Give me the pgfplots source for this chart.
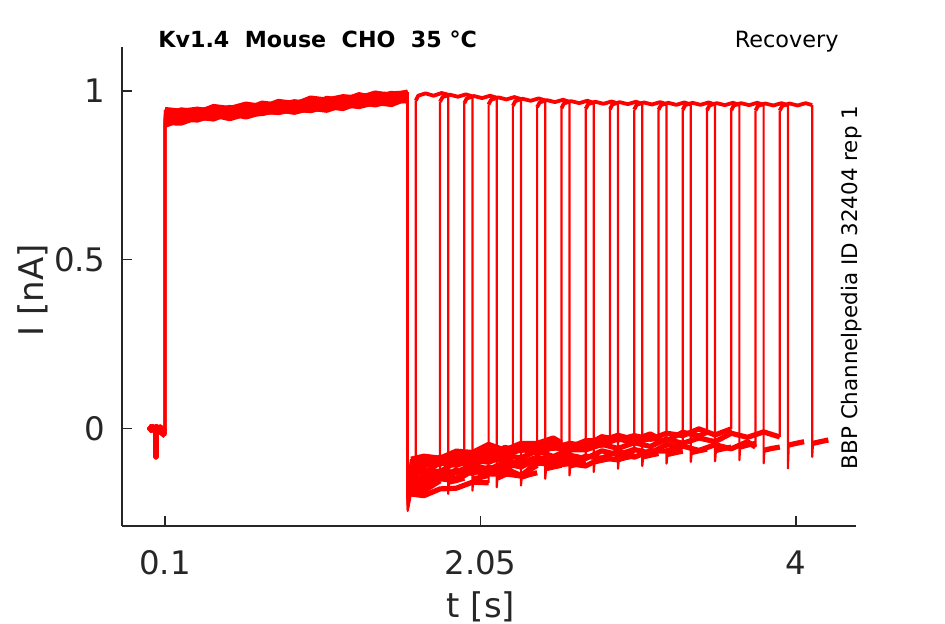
\documentclass[border=0pt]{standalone}
\usepackage{pgfplots}
\pgfplotsset{compat=1.18}
\usepackage{fontspec}
\setmainfont{DejaVu Sans}
\definecolor{axgray}{RGB}{38,38,38}
\pgfplotsset{
  band/.style={color=red,line width=2.6pt,line join=round,unbounded coords=jump},
  vert/.style={color=red,line width=1.1pt,line join=round,unbounded coords=jump},
  top/.style={color=red,line width=1.9pt,line join=round}}
\begin{document}
\begin{tikzpicture}
\path[use as bounding box] (-61pt,-49pt) rectangle (411.5pt,263pt);
\begin{axis}[
  at={(0,0)}, anchor=south west,
  scale only axis, width=367pt, height=239.5pt,
  xmin=-0.166, xmax=4.371, ymin=-0.290, ymax=1.1305,
  axis lines=left, axis line style={-, axgray, line width=0.6pt},
  tick align=inside, major tick length=5pt,
  tick style={axgray, line width=0.6pt},
  xtick={0.1,2.05,4}, xticklabels={0.1,2.05,4},
  ytick={0,0.5,1}, yticklabels={0,0.5,1},
  xticklabel style={font=\fontsize{16.2}{19}\selectfont, text=axgray, anchor=base, yshift=-24pt},
  yticklabel style={font=\fontsize{16.2}{19}\selectfont, text=axgray, anchor=east, inner sep=0pt, xshift=-8pt},
]
% ---------- sweep 1 ----------
\addplot[band] coordinates {(0,0.002)(0.025,-0.006)(0.042,0.000)(0.044,-0.085)(0.047,-0.004)(0.07,0.003)(0.1,-0.012) (nan,nan)
(0.1,0.924)(0.2,0.944)(0.3,0.938)(0.4,0.951)(0.5,0.944)(0.6,0.954)(0.7,0.950)(0.8,0.969)(0.9,0.963)(1.0,0.973)(1.1,0.967)(1.2,0.980)(1.3,0.979)(1.4,0.994)(1.5,0.983)(1.6,0.997) (nan,nan)
(1.62,-0.130)(1.65,-0.113) (nan,nan)
(1.855,-0.160)(1.9,-0.155)(1.95,-0.148)};
\addplot[vert] coordinates {(0.1,-0.012)(0.1,0.924) (nan,nan) (1.6,0.997)(1.6,-0.200)(1.62,-0.130) (nan,nan) (1.65,-0.113)(1.65,0.972) (nan,nan) (1.85,0.989)(1.85,-0.195)(1.855,-0.160)};
\addplot[top] coordinates {(1.65,0.972)(1.665,0.986)(1.71,0.993)(1.76,0.986)(1.81,0.994)(1.85,0.989)};
% ---------- sweep 2 ----------
\addplot[band] coordinates {(0,-0.005)(0.025,0.004)(0.042,-0.008)(0.044,-0.060)(0.047,0.001)(0.07,-0.007)(0.1,-0.018) (nan,nan)
(0.1,0.920)(0.2,0.914)(0.3,0.924)(0.4,0.920)(0.5,0.939)(0.6,0.933)(0.7,0.943)(0.8,0.937)(0.9,0.950)(1.0,0.947)(1.1,0.962)(1.2,0.951)(1.3,0.967)(1.4,0.968)(1.5,0.979)(1.6,0.972) (nan,nan)
(1.62,-0.182)(1.7,-0.186)(1.8,-0.156) (nan,nan)
(2.005,-0.150)(2.05,-0.146)(2.1,-0.140)};
\addplot[vert] coordinates {(0.1,-0.018)(0.1,0.920) (nan,nan) (1.6,0.972)(1.6,-0.240)(1.62,-0.182) (nan,nan) (1.8,-0.156)(1.8,0.968) (nan,nan) (2.0,0.984)(2.0,-0.185)(2.005,-0.150)};
\addplot[top] coordinates {(1.8,0.968)(1.815,0.982)(1.86,0.989)(1.91,0.983)(1.96,0.990)(2.0,0.984)};
% ---------- sweep 3 ----------
\addplot[band] coordinates {(0,0.006)(0.025,-0.002)(0.042,0.003)(0.044,-0.075)(0.047,-0.009)(0.07,0.000)(0.1,-0.008) (nan,nan)
(0.1,0.919)(0.2,0.939)(0.3,0.933)(0.4,0.943)(0.5,0.937)(0.6,0.950)(0.7,0.947)(0.8,0.962)(0.9,0.951)(1.0,0.965)(1.1,0.966)(1.2,0.977)(1.3,0.972)(1.4,0.984)(1.5,0.978)(1.6,0.994) (nan,nan)
(1.62,-0.100)(1.7,-0.086)(1.8,-0.099)(1.9,-0.077)(1.95,-0.078) (nan,nan)
(2.155,-0.148)(2.2,-0.138)(2.25,-0.130)};
\addplot[vert] coordinates {(0.1,-0.008)(0.1,0.919) (nan,nan) (1.6,0.994)(1.6,-0.185)(1.62,-0.100) (nan,nan) (1.95,-0.078)(1.95,0.964) (nan,nan) (2.15,0.980)(2.15,-0.175)(2.155,-0.148)};
\addplot[top] coordinates {(1.95,0.964)(1.965,0.978)(2.01,0.985)(2.06,0.979)(2.11,0.986)(2.15,0.980)};
% ---------- sweep 4 ----------
\addplot[band] coordinates {(0,-0.008)(0.025,0.001)(0.042,-0.004)(0.044,-0.040)(0.047,0.005)(0.07,-0.010)(0.1,-0.022) (nan,nan)
(0.1,0.906)(0.2,0.905)(0.3,0.922)(0.4,0.919)(0.5,0.934)(0.6,0.923)(0.7,0.937)(0.8,0.938)(0.9,0.949)(1.0,0.942)(1.1,0.954)(1.2,0.948)(1.3,0.966)(1.4,0.959)(1.5,0.971)(1.6,0.971) (nan,nan)
(1.62,-0.195)(1.7,-0.200)(1.8,-0.180)(1.9,-0.178)(2.0,-0.160)(2.1,-0.162) (nan,nan)
(2.305,-0.145)(2.35,-0.138)(2.4,-0.132)};
\addplot[vert] coordinates {(0.1,-0.022)(0.1,0.906) (nan,nan) (1.6,0.971)(1.6,-0.245)(1.62,-0.195) (nan,nan) (2.1,-0.162)(2.1,0.960) (nan,nan) (2.3,0.976)(2.3,-0.170)(2.305,-0.145)};
\addplot[top] coordinates {(2.1,0.960)(2.115,0.974)(2.16,0.981)(2.21,0.975)(2.26,0.982)(2.3,0.976)};
% ---------- sweep 5 ----------
\addplot[band] coordinates {(0,0.002)(0.025,-0.006)(0.042,0.000)(0.044,-0.085)(0.047,-0.004)(0.07,0.003)(0.1,-0.012) (nan,nan)
(0.1,0.919)(0.2,0.935)(0.3,0.924)(0.4,0.938)(0.5,0.939)(0.6,0.950)(0.7,0.943)(0.8,0.955)(0.9,0.949)(1.0,0.965)(1.1,0.958)(1.2,0.970)(1.3,0.966)(1.4,0.985)(1.5,0.979)(1.6,0.992) (nan,nan)
(1.62,-0.144)(1.7,-0.123)(1.8,-0.129)(1.9,-0.100)(2.0,-0.108)(2.1,-0.086)(2.2,-0.098)(2.25,-0.085) (nan,nan)
(2.455,-0.120)(2.5,-0.115)(2.55,-0.110)};
\addplot[vert] coordinates {(0.1,-0.012)(0.1,0.919) (nan,nan) (1.6,0.992)(1.6,-0.215)(1.62,-0.144) (nan,nan) (2.25,-0.085)(2.25,0.956) (nan,nan) (2.45,0.972)(2.45,-0.150)(2.455,-0.120)};
\addplot[top] coordinates {(2.25,0.956)(2.265,0.970)(2.31,0.977)(2.36,0.971)(2.41,0.978)(2.45,0.972)};
% ---------- sweep 6 ----------
\addplot[band] coordinates {(0,-0.005)(0.025,0.004)(0.042,-0.008)(0.044,-0.060)(0.047,0.001)(0.07,-0.007)(0.1,-0.018) (nan,nan)
(0.1,0.932)(0.2,0.934)(0.3,0.945)(0.4,0.938)(0.5,0.950)(0.6,0.944)(0.7,0.960)(0.8,0.953)(0.9,0.965)(1.0,0.959)(1.1,0.978)(1.2,0.972)(1.3,0.987)(1.4,0.980)(1.5,0.990)(1.6,0.986) (nan,nan)
(1.62,-0.161)(1.7,-0.169)(1.8,-0.150)(1.9,-0.155)(2.0,-0.126)(2.1,-0.133)(2.2,-0.119)(2.3,-0.140)(2.4,-0.110) (nan,nan)
(2.605,-0.112)(2.65,-0.106)(2.7,-0.100)};
\addplot[vert] coordinates {(0.1,-0.018)(0.1,0.932) (nan,nan) (1.6,0.986)(1.6,-0.230)(1.62,-0.161) (nan,nan) (2.4,-0.110)(2.4,0.952) (nan,nan) (2.6,0.968)(2.6,-0.140)(2.605,-0.112)};
\addplot[top] coordinates {(2.4,0.952)(2.415,0.966)(2.46,0.973)(2.51,0.967)(2.56,0.974)(2.6,0.968)};
% ---------- sweep 7 ----------
\addplot[band] coordinates {(0,0.006)(0.025,-0.002)(0.042,0.003)(0.044,-0.075)(0.047,-0.009)(0.07,0.000)(0.1,-0.008) (nan,nan)
(0.1,0.912)(0.2,0.925)(0.3,0.919)(0.4,0.935)(0.5,0.928)(0.6,0.940)(0.7,0.934)(0.8,0.953)(0.9,0.947)(1.0,0.960)(1.1,0.953)(1.2,0.963)(1.3,0.961)(1.4,0.980)(1.5,0.974)(1.6,0.984) (nan,nan)
(1.62,-0.092)(1.7,-0.083)(1.8,-0.089)(1.9,-0.068)(2.0,-0.072)(2.1,-0.048)(2.2,-0.065)(2.3,-0.045)(2.4,-0.045)(2.5,-0.029)(2.55,-0.043) (nan,nan)
(2.755,-0.100)(2.8,-0.095)(2.85,-0.090)};
\addplot[vert] coordinates {(0.1,-0.008)(0.1,0.912) (nan,nan) (1.6,0.984)(1.6,-0.180)(1.62,-0.092) (nan,nan) (2.55,-0.043)(2.55,0.949) (nan,nan) (2.75,0.965)(2.75,-0.130)(2.755,-0.100)};
\addplot[top] coordinates {(2.55,0.949)(2.565,0.963)(2.61,0.970)(2.66,0.964)(2.71,0.971)(2.75,0.965)};
% ---------- sweep 8 ----------
\addplot[band] coordinates {(0,-0.008)(0.025,0.001)(0.042,-0.004)(0.044,-0.040)(0.047,0.005)(0.07,-0.010)(0.1,-0.022) (nan,nan)
(0.1,0.917)(0.2,0.911)(0.3,0.923)(0.4,0.917)(0.5,0.936)(0.6,0.930)(0.7,0.943)(0.8,0.936)(0.9,0.946)(1.0,0.942)(1.1,0.961)(1.2,0.955)(1.3,0.967)(1.4,0.961)(1.5,0.974)(1.6,0.971) (nan,nan)
(1.62,-0.145)(1.7,-0.158)(1.8,-0.134)(1.9,-0.132)(2.0,-0.114)(2.1,-0.123)(2.2,-0.105)(2.3,-0.115)(2.4,-0.092)(2.5,-0.104)(2.6,-0.087)(2.7,-0.097) (nan,nan)
(2.905,-0.092)(2.95,-0.087)(3.0,-0.082)};
\addplot[vert] coordinates {(0.1,-0.022)(0.1,0.917) (nan,nan) (1.6,0.971)(1.6,-0.210)(1.62,-0.145) (nan,nan) (2.7,-0.097)(2.7,0.947) (nan,nan) (2.9,0.963)(2.9,-0.120)(2.905,-0.092)};
\addplot[top] coordinates {(2.7,0.947)(2.715,0.961)(2.76,0.968)(2.81,0.962)(2.86,0.969)(2.9,0.963)};
% ---------- sweep 9 ----------
\addplot[band] coordinates {(0,0.002)(0.025,-0.006)(0.042,0.000)(0.044,-0.085)(0.047,-0.004)(0.07,0.003)(0.1,-0.012) (nan,nan)
(0.1,0.945)(0.2,0.940)(0.3,0.946)(0.4,0.939)(0.5,0.949)(0.6,0.945)(0.7,0.964)(0.8,0.958)(0.9,0.968)(1.0,0.962)(1.1,0.975)(1.2,0.972)(1.3,0.989)(1.4,0.978)(1.5,0.992)(1.6,0.993) (nan,nan)
(1.62,-0.123)(1.7,-0.101)(1.8,-0.107)(1.9,-0.082)(2.0,-0.092)(2.1,-0.072)(2.2,-0.082)(2.3,-0.055)(2.4,-0.065)(2.5,-0.046)(2.6,-0.058)(2.7,-0.043)(2.8,-0.050)(2.85,-0.025) (nan,nan)
(3.055,-0.085)(3.1,-0.080)(3.15,-0.075)};
\addplot[vert] coordinates {(0.1,-0.012)(0.1,0.945) (nan,nan) (1.6,0.993)(1.6,-0.190)(1.62,-0.123) (nan,nan) (2.85,-0.025)(2.85,0.946) (nan,nan) (3.05,0.962)(3.05,-0.112)(3.055,-0.085)};
\addplot[top] coordinates {(2.85,0.946)(2.865,0.960)(2.91,0.967)(2.96,0.961)(3.01,0.968)(3.05,0.962)};
% ---------- sweep 10 ----------
\addplot[band] coordinates {(0,-0.005)(0.025,0.004)(0.042,-0.008)(0.044,-0.060)(0.047,0.001)(0.07,-0.007)(0.1,-0.018) (nan,nan)
(0.1,0.915)(0.2,0.926)(0.3,0.922)(0.4,0.941)(0.5,0.935)(0.6,0.945)(0.7,0.939)(0.8,0.952)(0.9,0.949)(1.0,0.964)(1.1,0.953)(1.2,0.967)(1.3,0.970)(1.4,0.981)(1.5,0.974)(1.6,0.986) (nan,nan)
(1.62,-0.165)(1.7,-0.180)(1.8,-0.140)(1.9,-0.148)(2.0,-0.127)(2.1,-0.136)(2.2,-0.135)(2.3,-0.142)(2.4,-0.101)(2.5,-0.111)(2.6,-0.105)(2.7,-0.112)(2.8,-0.088)(2.9,-0.094)(3.0,-0.074) (nan,nan)
(3.205,-0.078)(3.25,-0.073)(3.3,-0.068)};
\addplot[vert] coordinates {(0.1,-0.018)(0.1,0.915) (nan,nan) (1.6,0.986)(1.6,-0.225)(1.62,-0.165) (nan,nan) (3.0,-0.074)(3.0,0.945) (nan,nan) (3.2,0.961)(3.2,-0.105)(3.205,-0.078)};
\addplot[top] coordinates {(3.0,0.945)(3.015,0.959)(3.06,0.966)(3.11,0.960)(3.16,0.967)(3.2,0.961)};
% ---------- sweep 11 ----------
\addplot[band] coordinates {(0,0.006)(0.025,-0.002)(0.042,0.003)(0.044,-0.075)(0.047,-0.009)(0.07,0.000)(0.1,-0.008) (nan,nan)
(0.1,0.933)(0.2,0.928)(0.3,0.938)(0.4,0.932)(0.5,0.945)(0.6,0.942)(0.7,0.957)(0.8,0.946)(0.9,0.960)(1.0,0.961)(1.1,0.972)(1.2,0.965)(1.3,0.979)(1.4,0.973)(1.5,0.989)(1.6,0.982) (nan,nan)
(1.62,-0.118)(1.7,-0.099)(1.8,-0.102)(1.9,-0.073)(2.0,-0.081)(2.1,-0.064)(2.2,-0.074)(2.3,-0.055)(2.4,-0.061)(2.5,-0.040)(2.6,-0.057)(2.7,-0.037)(2.8,-0.037)(2.9,-0.021)(3.0,-0.034)(3.1,-0.017)(3.15,-0.030) (nan,nan)
(3.355,-0.072)(3.4,-0.067)(3.45,-0.062)};
\addplot[vert] coordinates {(0.1,-0.008)(0.1,0.933) (nan,nan) (1.6,0.982)(1.6,-0.190)(1.62,-0.118) (nan,nan) (3.15,-0.030)(3.15,0.944) (nan,nan) (3.35,0.960)(3.35,-0.100)(3.355,-0.072)};
\addplot[top] coordinates {(3.15,0.944)(3.165,0.958)(3.21,0.965)(3.26,0.959)(3.31,0.966)(3.35,0.960)};
% ---------- sweep 12 ----------
\addplot[band] coordinates {(0,-0.008)(0.025,0.001)(0.042,-0.004)(0.044,-0.040)(0.047,0.005)(0.07,-0.010)(0.1,-0.022) (nan,nan)
(0.1,0.898)(0.2,0.917)(0.3,0.914)(0.4,0.929)(0.5,0.918)(0.6,0.932)(0.7,0.933)(0.8,0.944)(0.9,0.937)(1.0,0.949)(1.1,0.943)(1.2,0.959)(1.3,0.954)(1.4,0.966)(1.5,0.960)(1.6,0.979) (nan,nan)
(1.62,-0.144)(1.7,-0.150)(1.8,-0.127)(1.9,-0.131)(2.0,-0.108)(2.1,-0.122)(2.2,-0.102)(2.3,-0.102)(2.4,-0.086)(2.5,-0.098)(2.6,-0.080)(2.7,-0.090)(2.8,-0.067)(2.9,-0.079)(3.0,-0.063)(3.1,-0.074)(3.2,-0.048)(3.3,-0.059) (nan,nan)
(3.505,-0.066)(3.55,-0.061)(3.6,-0.056)};
\addplot[vert] coordinates {(0.1,-0.022)(0.1,0.898) (nan,nan) (1.6,0.979)(1.6,-0.205)(1.62,-0.144) (nan,nan) (3.3,-0.059)(3.3,0.944) (nan,nan) (3.5,0.960)(3.5,-0.098)(3.505,-0.066)};
\addplot[top] coordinates {(3.3,0.944)(3.315,0.958)(3.36,0.965)(3.41,0.959)(3.46,0.966)(3.5,0.960)};
% ---------- sweep 13 ----------
\addplot[band] coordinates {(0,0.002)(0.025,-0.006)(0.042,0.000)(0.044,-0.085)(0.047,-0.004)(0.07,0.003)(0.1,-0.012) (nan,nan)
(0.1,0.942)(0.2,0.930)(0.3,0.939)(0.4,0.940)(0.5,0.951)(0.6,0.944)(0.7,0.956)(0.8,0.950)(0.9,0.966)(1.0,0.959)(1.1,0.971)(1.2,0.965)(1.3,0.986)(1.4,0.980)(1.5,0.993)(1.6,0.986) (nan,nan)
(1.62,-0.132)(1.7,-0.108)(1.8,-0.104)(1.9,-0.086)(2.0,-0.096)(2.1,-0.075)(2.2,-0.085)(2.3,-0.062)(2.4,-0.074)(2.5,-0.057)(2.6,-0.067)(2.7,-0.040)(2.8,-0.050)(2.9,-0.031)(3.0,-0.044)(3.1,-0.030)(3.2,-0.038)(3.3,-0.012)(3.4,-0.023)(3.45,-0.012) (nan,nan)
(3.655,-0.056)(3.7,-0.050)(3.75,-0.045)};
\addplot[vert] coordinates {(0.1,-0.012)(0.1,0.942) (nan,nan) (1.6,0.986)(1.6,-0.195)(1.62,-0.132) (nan,nan) (3.45,-0.012)(3.45,0.943) (nan,nan) (3.65,0.959)(3.65,-0.095)(3.655,-0.056)};
\addplot[top] coordinates {(3.45,0.943)(3.465,0.957)(3.51,0.964)(3.56,0.958)(3.61,0.965)(3.65,0.959)};
% ---------- sweep 14 ----------
\addplot[band] coordinates {(0,-0.005)(0.025,0.004)(0.042,-0.008)(0.044,-0.060)(0.047,0.001)(0.07,-0.007)(0.1,-0.018) (nan,nan)
(0.1,0.915)(0.2,0.927)(0.3,0.920)(0.4,0.932)(0.5,0.926)(0.6,0.942)(0.7,0.935)(0.8,0.947)(0.9,0.941)(1.0,0.960)(1.1,0.954)(1.2,0.967)(1.3,0.962)(1.4,0.972)(1.5,0.968)(1.6,0.987) (nan,nan)
(1.62,-0.107)(1.7,-0.113)(1.8,-0.086)(1.9,-0.096)(2.0,-0.077)(2.1,-0.084)(2.2,-0.057)(2.3,-0.067)(2.4,-0.048)(2.5,-0.060)(2.6,-0.045)(2.7,-0.052)(2.8,-0.025)(2.9,-0.035)(3.0,-0.022)(3.1,-0.033)(3.2,-0.015)(3.3,-0.022)(3.4,-0.002)(3.5,-0.020)(3.6,-0.002) (nan,nan)
(3.805,-0.065)(3.85,-0.060)(3.9,-0.056)};
\addplot[vert] coordinates {(0.1,-0.018)(0.1,0.915) (nan,nan) (1.6,0.987)(1.6,-0.185)(1.62,-0.107) (nan,nan) (3.6,-0.002)(3.6,0.943) (nan,nan) (3.8,0.959)(3.8,-0.104)(3.805,-0.065)};
\addplot[top] coordinates {(3.6,0.943)(3.615,0.957)(3.66,0.964)(3.71,0.958)(3.76,0.965)(3.8,0.959)};
% ---------- sweep 15 ----------
\addplot[band] coordinates {(0,0.006)(0.025,-0.002)(0.042,0.003)(0.044,-0.075)(0.047,-0.009)(0.07,0.000)(0.1,-0.008) (nan,nan)
(0.1,0.925)(0.2,0.920)(0.3,0.936)(0.4,0.929)(0.5,0.941)(0.6,0.935)(0.7,0.954)(0.8,0.948)(0.9,0.961)(1.0,0.954)(1.1,0.964)(1.2,0.960)(1.3,0.981)(1.4,0.975)(1.5,0.985)(1.6,0.979) (nan,nan)
(1.62,-0.170)(1.7,-0.139)(1.8,-0.145)(1.9,-0.124)(2.0,-0.134)(2.1,-0.116)(2.2,-0.123)(2.3,-0.096)(2.4,-0.106)(2.5,-0.092)(2.6,-0.102)(2.7,-0.083)(2.8,-0.089)(2.9,-0.068)(3.0,-0.086)(3.1,-0.067)(3.2,-0.068)(3.3,-0.053)(3.4,-0.066)(3.5,-0.049)(3.6,-0.061)(3.7,-0.040)(3.75,-0.056) (nan,nan)
(3.955,-0.050)(4.0,-0.045)(4.05,-0.040)};
\addplot[vert] coordinates {(0.1,-0.008)(0.1,0.925) (nan,nan) (1.6,0.979)(1.6,-0.215)(1.62,-0.170) (nan,nan) (3.75,-0.056)(3.75,0.942) (nan,nan) (3.95,0.958)(3.95,-0.119)(3.955,-0.050)};
\addplot[top] coordinates {(3.75,0.942)(3.765,0.956)(3.81,0.963)(3.86,0.957)(3.91,0.964)(3.95,0.958)};
% ---------- sweep 16 ----------
\addplot[band] coordinates {(0,-0.008)(0.025,0.001)(0.042,-0.004)(0.044,-0.040)(0.047,0.005)(0.07,-0.010)(0.1,-0.022) (nan,nan)
(0.1,0.928)(0.2,0.941)(0.3,0.935)(0.4,0.954)(0.5,0.948)(0.6,0.961)(0.7,0.954)(0.8,0.964)(0.9,0.960)(1.0,0.979)(1.1,0.973)(1.2,0.983)(1.3,0.979)(1.4,0.992)(1.5,0.989)(1.6,0.996) (nan,nan)
(1.62,-0.130)(1.7,-0.133)(1.8,-0.102)(1.9,-0.110)(2.0,-0.094)(2.1,-0.101)(2.2,-0.082)(2.3,-0.088)(2.4,-0.067)(2.5,-0.084)(2.6,-0.064)(2.7,-0.064)(2.8,-0.048)(2.9,-0.060)(3.0,-0.043)(3.1,-0.054)(3.2,-0.032)(3.3,-0.045)(3.4,-0.029)(3.5,-0.040)(3.6,-0.015)(3.7,-0.027)(3.8,-0.011)(3.9,-0.026) (nan,nan)
(4.105,-0.045)(4.15,-0.040)(4.2,-0.035)};
\addplot[vert] coordinates {(0.1,-0.022)(0.1,0.928) (nan,nan) (1.6,0.996)(1.6,-0.205)(1.62,-0.130) (nan,nan) (3.9,-0.026)(3.9,0.942) (nan,nan) (4.1,0.958)(4.1,-0.085)(4.105,-0.045)};
\addplot[top] coordinates {(3.9,0.942)(3.915,0.956)(3.96,0.963)(4.01,0.957)(4.06,0.964)(4.1,0.958)};
\end{axis}
\node[inner sep=0pt, anchor=base west, font=\fontsize{11.1}{13}\selectfont\bfseries, text=black] at (18pt,239pt) {Kv1.4\ \ Mouse\ \ CHO\ \ 35 °C};
\node[inner sep=0pt, anchor=base east, font=\fontsize{11.2}{13}\selectfont, text=black] at (358.5pt,239pt) {Recovery};
\node[inner sep=0pt, rotate=90, anchor=base, font=\fontsize{10.7}{13}\selectfont, text=black] at (367.5pt,119.25pt) {BBP Channelpedia ID 32404 rep 1};
\node[inner sep=0pt, anchor=base, font=\fontsize{17}{20}\selectfont, text=axgray] at (179.5pt,-46pt) {t [s]};
\node[inner sep=0pt, rotate=90, anchor=base, font=\fontsize{17}{20}\selectfont, text=axgray] at (-39pt,118pt) {I [nA]};
\end{tikzpicture}
\end{document}
